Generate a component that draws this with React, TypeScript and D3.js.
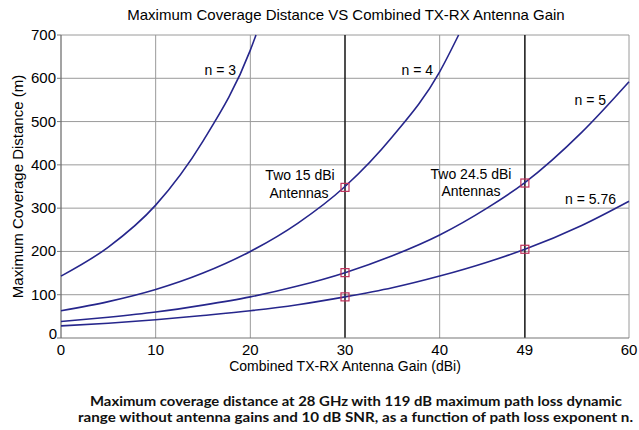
import React, { useRef, useEffect } from 'react';
import * as d3 from 'd3';

// curve readings (gain in dBi, distance in m)
const n3Gain = [0, 5, 10, 15, 20, 20.6];
const n3Dist = [143, 210, 307, 455, 665, 700];
const n4Gain = [0, 5, 10, 15, 20, 25, 30, 35, 40, 42];
const n4Dist = [63, 84, 112, 150, 200, 265, 350, 465, 615, 700];
const n5Gain = [0, 5, 10, 15, 20, 25, 30, 35, 40, 45, 49, 55, 60];
const n5Dist = [38, 48, 60, 76, 95, 120, 151, 190, 238, 300, 359, 475, 592];
const n576Gain = [0, 5, 10, 15, 20, 25, 30, 35, 40, 45, 49, 55, 60];
const n576Dist = [28, 34, 42, 52, 63, 77, 95, 116, 143, 175, 205, 260, 316];

const markerGain = [30, 30, 30, 49, 49];
const markerDist = [348, 151, 95, 358, 205];

const xTicks = [0, 10, 20, 30, 40, 49, 60];
const yTicks = [0, 100, 200, 300, 400, 500, 600, 700];
const darkLines = [30, 49];

const W = 639;
const H = 430;
const margin = { left: 61, right: 10, top: 35, bottom: 92 };

const App = () => {
  const svgRef = useRef(null);

  useEffect(() => {
    const svg = d3.select(svgRef.current);
    svg.selectAll('*').remove();

    const x = d3.scaleLinear().domain([0, 60]).range([margin.left, W - margin.right]);
    const y = d3.scaleLinear().domain([0, 700]).range([H - margin.bottom, margin.top]);
    const font = 'Liberation Sans, Arial, sans-serif';

    svg.append('rect').attr('width', W).attr('height', H).attr('fill', '#fff');

    // grid
    const g = svg.append('g');
    g.selectAll('.hg')
      .data(yTicks.slice(1))
      .enter()
      .append('line')
      .attr('x1', x(0)).attr('x2', x(60))
      .attr('y1', d => y(d)).attr('y2', d => y(d))
      .attr('stroke', '#9a9a9a').attr('stroke-width', 1);
    g.selectAll('.vg')
      .data([10, 20, 40, 60])
      .enter()
      .append('line')
      .attr('x1', d => x(d)).attr('x2', d => x(d))
      .attr('y1', y(0)).attr('y2', y(700))
      .attr('stroke', '#9a9a9a').attr('stroke-width', 1);
    g.selectAll('.dk')
      .data(darkLines)
      .enter()
      .append('line')
      .attr('x1', d => x(d)).attr('x2', d => x(d))
      .attr('y1', y(0)).attr('y2', y(700))
      .attr('stroke', '#222').attr('stroke-width', 1.6);

    // axes
    g.append('line').attr('x1', x(0)).attr('x2', x(60)).attr('y1', y(0)).attr('y2', y(0))
      .attr('stroke', '#777').attr('stroke-width', 1.2);
    g.append('line').attr('x1', x(0)).attr('x2', x(0)).attr('y1', y(0)).attr('y2', y(700))
      .attr('stroke', '#666').attr('stroke-width', 1.2);
    g.selectAll('.yt')
      .data(yTicks)
      .enter()
      .append('line')
      .attr('x1', x(0) - 4).attr('x2', x(0))
      .attr('y1', d => y(d)).attr('y2', d => y(d))
      .attr('stroke', '#777');

    g.selectAll('.ytl')
      .data(yTicks)
      .enter()
      .append('text')
      .attr('x', d => (d === 0 ? x(0) - 4 : x(0) - 5))
      .attr('y', d => (d === 0 ? y(d) + 1 : y(d) + 5))
      .attr('text-anchor', 'end')
      .attr('font-family', font)
      .attr('font-size', 15)
      .text(d => d);
    g.selectAll('.xtl')
      .data(xTicks)
      .enter()
      .append('text')
      .attr('x', d => x(d))
      .attr('y', y(0) + 17)
      .attr('text-anchor', 'middle')
      .attr('font-family', font)
      .attr('font-size', 15)
      .text(d => d);

    // curves
    const line = d3.line()
      .x(d => x(d[0]))
      .y(d => y(d[1]))
      .curve(d3.curveMonotoneX);
    const series = [
      [n3Gain, n3Dist],
      [n4Gain, n4Dist],
      [n5Gain, n5Dist],
      [n576Gain, n576Dist],
    ];
    g.selectAll('.curve')
      .data(series)
      .enter()
      .append('path')
      .attr('d', s => line(s[0].map((v, i) => [v, s[1][i]])))
      .attr('fill', 'none')
      .attr('stroke', '#26268c')
      .attr('stroke-width', 1.6);

    // markers
    g.selectAll('.mk')
      .data(markerGain)
      .enter()
      .append('rect')
      .attr('x', d => x(d) - 4)
      .attr('y', (d, i) => y(markerDist[i]) - 4)
      .attr('width', 8)
      .attr('height', 8)
      .attr('fill', 'none')
      .attr('stroke', '#c0305a')
      .attr('stroke-width', 1.2);

    // labels
    const labels = [
      { t: 'n = 3', x: 236, y: 75, a: 'end' },
      { t: 'n = 4', x: 433, y: 75, a: 'end' },
      { t: 'n = 5', x: 606, y: 105, a: 'end' },
      { t: 'n = 5.76', x: 616, y: 204, a: 'end' },
      { t: 'Two 15 dBi', x: 300, y: 180, a: 'middle' },
      { t: 'Antennas', x: 299, y: 198, a: 'middle' },
      { t: 'Two 24.5 dBi', x: 471, y: 179, a: 'middle' },
      { t: 'Antennas', x: 471, y: 196, a: 'middle' },
    ];
    svg.selectAll('.lbl')
      .data(labels)
      .enter()
      .append('text')
      .attr('x', d => d.x)
      .attr('y', d => d.y)
      .attr('text-anchor', d => d.a)
      .attr('font-family', font)
      .attr('font-size', 14)
      .text(d => d.t);

    svg.append('text')
      .attr('x', 346).attr('y', 20)
      .attr('text-anchor', 'middle')
      .attr('font-family', font).attr('font-size', 15)
      .text('Maximum Coverage Distance VS Combined TX-RX Antenna Gain');

    svg.append('text')
      .attr('x', 345).attr('y', 371)
      .attr('text-anchor', 'middle')
      .attr('font-family', font).attr('font-size', 14)
      .text('Combined TX-RX Antenna Gain (dBi)');

    svg.append('text')
      .attr('transform', `translate(23, ${y(350)}) rotate(-90)`)
      .attr('text-anchor', 'middle')
      .attr('font-family', font).attr('font-size', 15)
      .text('Maximum Coverage Distance (m)');

    const cap = svg.append('g')
      .attr('font-family', 'Lato, sans-serif')
      .attr('font-weight', 700)
      .attr('font-size', 13.5)
      .attr('fill', '#111');
    cap.append('text')
      .attr('x', 90).attr('y', 406)
      .attr('textLength', 532).attr('lengthAdjust', 'spacingAndGlyphs')
      .text('Maximum coverage distance at 28 GHz with 119 dB maximum path loss dynamic');
    cap.append('text')
      .attr('x', 78).attr('y', 422)
      .attr('textLength', 555).attr('lengthAdjust', 'spacingAndGlyphs')
      .text('range without antenna gains and 10 dB SNR, as a function of path loss exponent n.');
  }, []);

  return (
    <svg
      ref={svgRef}
      width={W}
      height={H}
      style={{ position: 'absolute', left: 0, top: 0, display: 'block' }}
    ></svg>
  );
};

export default App;
